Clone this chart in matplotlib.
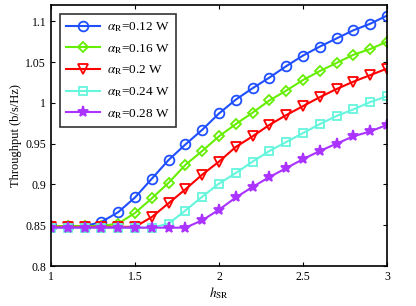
import matplotlib
matplotlib.use("Agg")
import matplotlib.pyplot as plt
import numpy as np

# Data
h_sr = np.round(np.arange(1.0, 3.01, 0.1), 1)

thr_012 = [0.849, 0.849, 0.849, 0.854, 0.866, 0.884, 0.907, 0.930, 0.949, 0.967, 0.987,
           1.004, 1.018, 1.031, 1.045, 1.058, 1.069, 1.079, 1.089, 1.097, 1.107]
thr_016 = [0.849, 0.849, 0.849, 0.849, 0.852, 0.865, 0.883, 0.902, 0.924, 0.941, 0.959,
           0.974, 0.988, 1.003, 1.015, 1.028, 1.039, 1.049, 1.059, 1.066, 1.075]
thr_020 = [0.848, 0.848, 0.848, 0.848, 0.848, 0.848, 0.860, 0.877, 0.894, 0.912, 0.928,
           0.946, 0.959, 0.973, 0.985, 0.996, 1.007, 1.017, 1.026, 1.034, 1.042]
thr_024 = [0.847, 0.847, 0.847, 0.847, 0.847, 0.847, 0.847, 0.852, 0.868, 0.885, 0.901,
           0.914, 0.928, 0.941, 0.952, 0.963, 0.974, 0.984, 0.992, 1.001, 1.008]
thr_028 = [0.847, 0.847, 0.847, 0.847, 0.847, 0.847, 0.847, 0.847, 0.847, 0.856, 0.869,
           0.884, 0.897, 0.909, 0.920, 0.931, 0.941, 0.950, 0.959, 0.965, 0.973]

alpha_labels = ['0.12', '0.16', '0.2', '0.24', '0.28']
series = [thr_012, thr_016, thr_020, thr_024, thr_028]

# Style
colors = ['#1f4fff', '#66ee00', '#ff0000', '#66f5dd', '#aa33ff']
markers = ['o', 'D', 'v', 's', '*']
msizes = [7, 5.5, 7, 6, 8]
fills = ['none', 'none', 'none', 'none', 'full']

plt.rcParams['font.family'] = ['Liberation Serif', 'DejaVu Serif']
plt.rcParams['mathtext.fontset'] = 'stix'

fig = plt.figure(figsize=(4.16, 3.06), dpi=100)
ax = fig.add_axes([0.1226, 0.1307, 0.8077, 0.853])

for vals, lab, c, m, ms, f in zip(series, alpha_labels, colors, markers, msizes, fills):
    ax.plot(h_sr, vals, color=c, marker=m, markersize=ms, linewidth=1.5,
            markerfacecolor=(c if f == 'full' else 'none'), markeredgewidth=1.3,
            label=r'$\alpha_{\rm R}$=' + lab + ' W')

ax.set_xlim(1, 3)
ax.set_ylim(0.8, 1.12)
ax.set_xticks([1, 1.5, 2, 2.5, 3])
ax.set_xticklabels(['1', '1.5', '2', '2.5', '3'])
ax.set_yticks([0.8, 0.85, 0.9, 0.95, 1.0, 1.05, 1.1])
ax.set_yticklabels(['0.8', '0.85', '0.9', '0.95', '1', '1.05', '1.1'])
ax.tick_params(direction='in', top=True, right=True, labelsize=8.5, length=3)
for s in ax.spines.values():
    s.set_linewidth(1.2)

ax.set_xlabel(r'$h_{\rm SR}$', fontsize=9.5, labelpad=2)
ax.set_ylabel('Throughput (b/s/Hz)', fontsize=9, labelpad=2)

leg = ax.legend(loc='upper left', fontsize=9.5, frameon=True, fancybox=False,
                edgecolor='black', borderaxespad=0.7, handlelength=2.6,
                labelspacing=0.6, borderpad=0.45, handletextpad=0.5)
leg.get_frame().set_linewidth(1.2)

fig.savefig('out.png', dpi=100)
